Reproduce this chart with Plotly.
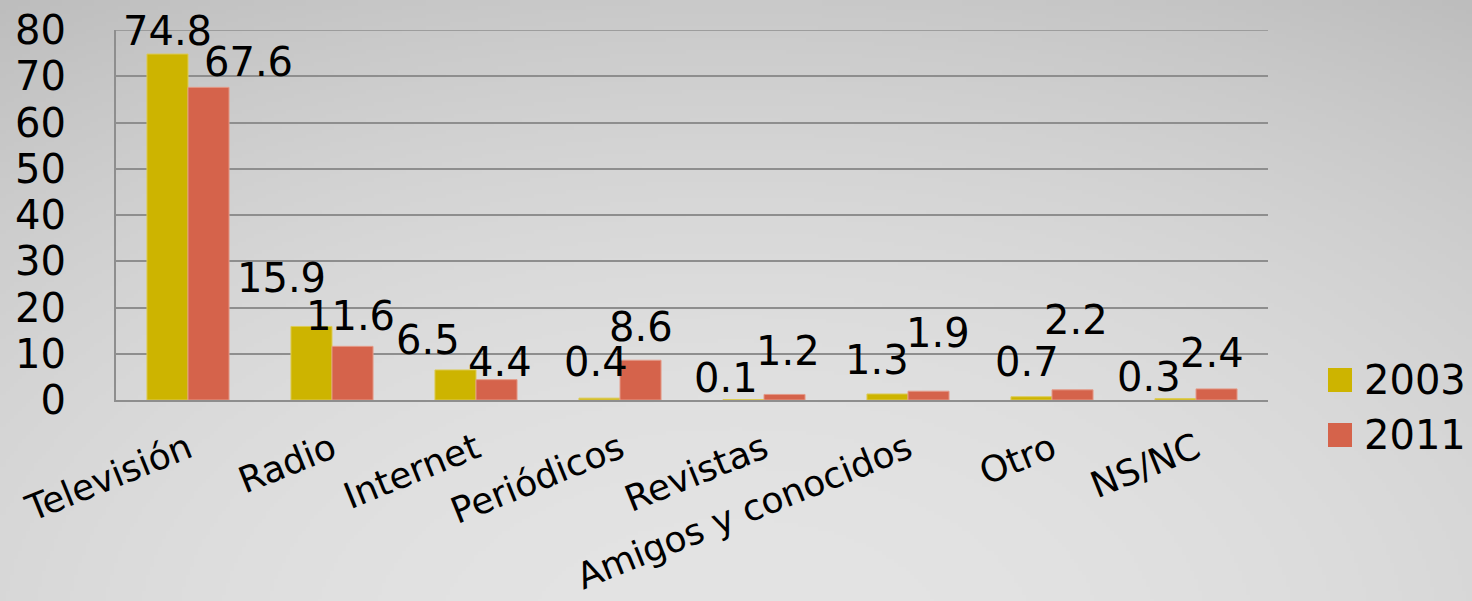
import base64
import struct
import zlib

import numpy as np
import plotly.graph_objects as go

# ---------------- data ----------------
categories = ["Televisión", "Radio", "Internet", "Periódicos", "Revistas",
              "Amigos y conocidos", "Otro", "NS/NC"]
series_names = ["2003", "2011"]
values_2003 = [74.8, 15.9, 6.5, 0.4, 0.1, 1.3, 0.7, 0.3]
values_2011 = [67.6, 11.6, 4.4, 8.6, 1.2, 1.9, 2.2, 2.4]
y_tick_values = [0, 10, 20, 30, 40, 50, 60, 70, 80]

# pixel nudges of the value labels (relative to bar centre / bar top), as placed in the original
label_dx_2003 = [0, -30, -27, -3, -17, -10, -4, -26]
label_dy_2003 = [23, 48, 30, 36, 22, 34, 35, 22]
label_dx_2011 = [40, -2, 3, 0, 3, 9, 3, -5]
label_dy_2011 = [25, 30, 18, 33, 43, 58, 70, 36]

# ---------------- styling ----------------
W, H = 1472, 601
ML, MR, MT, MB = 116, 204, 30, 201
PW, PH = W - ML - MR, H - MT - MB
FONT = "DejaVu Sans"
COL_2003 = "#CDB400"
COL_2011 = "#D5634B"
GRID = "#8E8E8E"
BARGAP = 0.43


def gradient_png(w, h):
    xs = (np.arange(w) + 0.5) * W / w
    ys = (np.arange(h) + 0.5) * H / h
    X, Y = np.meshgrid(xs, ys)
    v = 228 - 40 * (((X - 736) / 1343) ** 2 + ((Y - 640) / 779) ** 2)
    img = np.clip(v, 0, 255).astype(np.uint8)
    raw = b"".join(b"\x00" + row.tobytes() for row in img)

    def chunk(t, d):
        return struct.pack(">I", len(d)) + t + d + struct.pack(">I", zlib.crc32(t + d) & 0xFFFFFFFF)

    png = (b"\x89PNG\r\n\x1a\n"
           + chunk(b"IHDR", struct.pack(">IIBBBBB", w, h, 8, 0, 0, 0, 0))
           + chunk(b"IDAT", zlib.compress(raw, 9))
           + chunk(b"IEND", b""))
    return "data:image/png;base64," + base64.b64encode(png).decode()


fig = go.Figure()
fig.add_trace(go.Bar(name=series_names[0], x=categories, y=values_2003,
                     marker=dict(color=COL_2003, line=dict(color="#DCCB55", width=1)),
                     showlegend=False))
fig.add_trace(go.Bar(name=series_names[1], x=categories, y=values_2011,
                     marker=dict(color=COL_2011, line=dict(color="#E49A88", width=1)),
                     showlegend=False))

# value labels
cat_px = PW / len(categories)
bar_px = cat_px * (1 - BARGAP) / 2
annotations = []
for vals, dxs, dys, off in ((values_2003, label_dx_2003, label_dy_2003, -bar_px / 2),
                            (values_2011, label_dx_2011, label_dy_2011, bar_px / 2)):
    for c, v, dx, dy in zip(categories, vals, dxs, dys):
        annotations.append(dict(x=c, y=v, xref="x", yref="y", text=f"{v:.1f}",
                                showarrow=False, xanchor="center", yanchor="middle",
                                xshift=off + dx, yshift=dy,
                                font=dict(family=FONT, size=40, color="#000000")))

# manual legend (large square keys)
def px_x(px):
    return (px - ML) / PW


def px_y(py):
    return 1 - (py - MT) / PH


shapes = [
    # top gridline (plotly drops the grid line lying on the plot edge)
    dict(type="line", xref="paper", yref="y", x0=0, x1=1, y0=y_tick_values[-1],
         y1=y_tick_values[-1], line=dict(color=GRID, width=1.5), layer="below"),
]
for name, col, cy in ((series_names[0], COL_2003, 380), (series_names[1], COL_2011, 435)):
    shapes.append(dict(type="rect", xref="paper", yref="paper",
                       x0=px_x(1328), x1=px_x(1352), y0=px_y(cy - 12), y1=px_y(cy + 12),
                       fillcolor=col, line=dict(width=0)))
    annotations.append(dict(x=px_x(1362), y=px_y(cy), xref="paper", yref="paper",
                            text=name, showarrow=False, xanchor="left", yanchor="middle",
                            font=dict(family=FONT, size=40, color="#000000")))

fig.update_layout(
    width=W, height=H,
    margin=dict(l=ML, r=MR, t=MT, b=MB, pad=0, autoexpand=False),
    paper_bgcolor="#d2d2d2",
    plot_bgcolor="rgba(0,0,0,0)",
    barmode="group", bargap=BARGAP, bargroupgap=0,
    font=dict(family=FONT, color="#000000"),
    showlegend=False,
    annotations=annotations,
    shapes=shapes,
    images=[dict(source=gradient_png(368, 150), xref="paper", yref="paper",
                 x=-ML / PW, y=1 + MT / PH, sizex=W / PW, sizey=H / PH,
                 xanchor="left", yanchor="top", sizing="stretch", layer="below")],
    xaxis=dict(showgrid=False, showline=True, linecolor=GRID, linewidth=2,
               automargin=False,
               tickangle=-22, tickfont=dict(family=FONT, size=36, color="#000000"),
               ticks="", ticklabelstandoff=12),
    yaxis=dict(range=[0, 80], tickvals=y_tick_values, showgrid=True, gridcolor=GRID,
               automargin=False,
               gridwidth=1.5, showline=True, linecolor=GRID, linewidth=2, zeroline=False,
               ticks="", ticklabelstandoff=40,
               tickfont=dict(family=FONT, size=40, color="#000000")),
)

fig.write_html("out.html", config={"displayModeBar": False},
               post_script="document.body.style.margin='0';")
